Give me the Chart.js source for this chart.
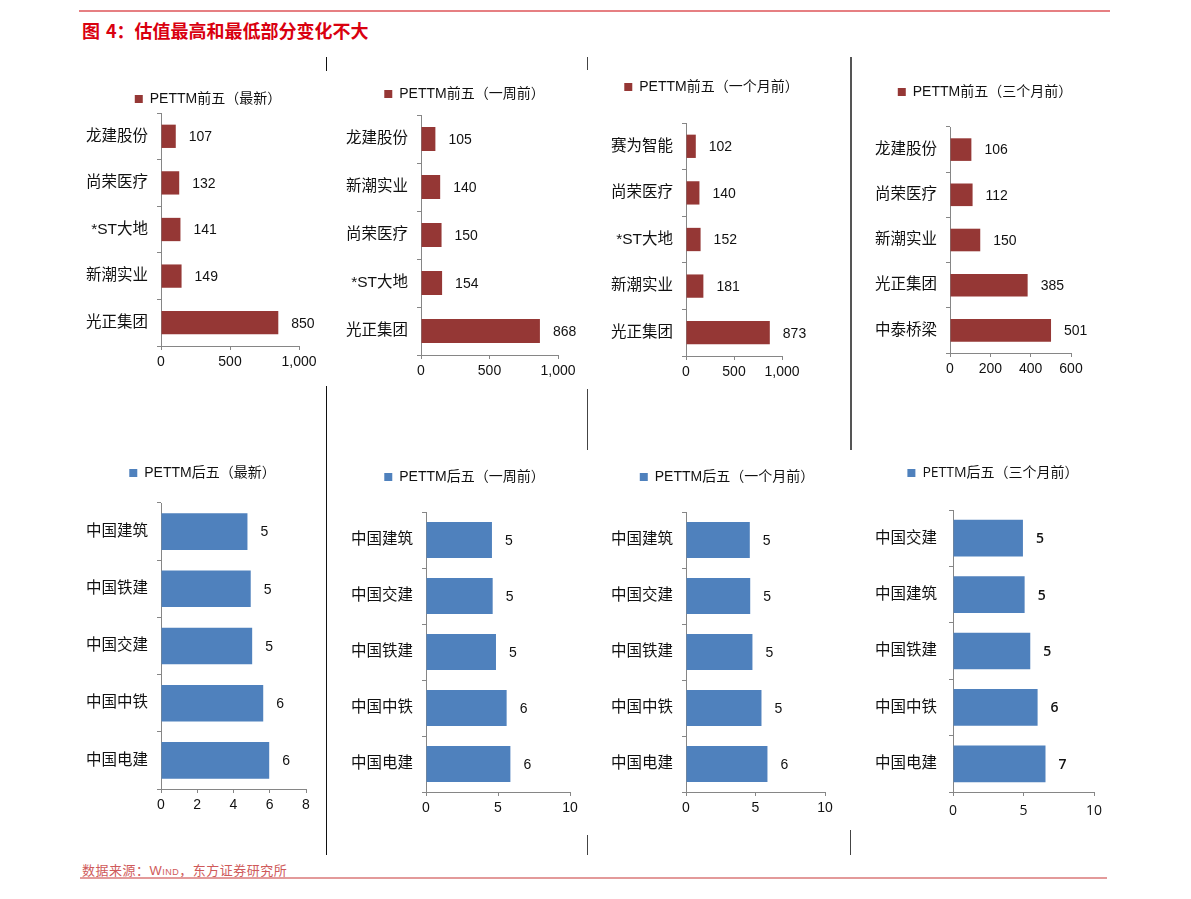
<!DOCTYPE html>
<html>
<head>
<meta charset="utf-8">
<script src="https://cdn.jsdelivr.net/npm/chart.js@4/dist/chart.umd.min.js"></script>
<style>
  html,body{margin:0;padding:0;background:#fff;}
  body{width:1191px;height:899px;position:relative;overflow:hidden;font-family:'Noto Sans CJK SC',sans-serif;}
  canvas{position:absolute;}
  .hl{position:absolute;height:2px;}
  .vl{position:absolute;width:1px;background:#333;}
  #title{position:absolute;left:82px;top:18px;font-size:18px;font-weight:bold;color:#d9000f;line-height:24px;white-space:nowrap;font-family:'Noto Sans CJK SC',sans-serif;}
  #title .sp{display:inline-block;width:6px;}
  #source{position:absolute;left:82px;top:862px;font-size:13px;color:#cf5a5a;line-height:16px;white-space:nowrap;letter-spacing:0.5px;}
  #source .sc{font-variant:small-caps;font-family:'Liberation Sans',sans-serif;}
</style>
</head>
<body>
<div class="hl" style="left:79px;top:10px;width:1031px;background:#e67f82;"></div>
<div id="title">图<span class="sp"></span>4：估值最高和最低部分变化不大</div>

<div class="vl" style="left:326px;top:57px;height:14px;background:#111;"></div>
<div class="vl" style="left:587px;top:57px;height:13px;background:#444;"></div>
<div class="vl" style="left:850px;top:57px;height:393px;width:2px;background:#555;"></div>
<div class="vl" style="left:326px;top:386px;height:469px;background:#111;"></div>
<div class="vl" style="left:587px;top:389px;height:61px;background:#444;"></div>
<div class="vl" style="left:587px;top:835px;height:20px;background:#444;"></div>
<div class="vl" style="left:850px;top:830px;height:25px;background:#444;"></div>

<canvas id="c1"></canvas><canvas id="c2"></canvas><canvas id="c3"></canvas><canvas id="c4"></canvas>
<canvas id="c5"></canvas><canvas id="c6"></canvas><canvas id="c7"></canvas><canvas id="c8"></canvas>

<div id="source">数据来源：<span class="sc">Wind</span>，东方证券研究所</div>
<div class="hl" style="left:80px;top:877px;width:1027px;background:#e39a9a;"></div>

<script>
// ---------------- DATA ----------------
const topLatestName = 'PETTM前五（最新）';
const topLatestCats = ['龙建股份', '尚荣医疗', '*ST大地', '新潮实业', '光正集团'];
const topLatestVals = [107, 132, 141, 149, 850];

const topWeekName = 'PETTM前五（一周前）';
const topWeekCats = ['龙建股份', '新潮实业', '尚荣医疗', '*ST大地', '光正集团'];
const topWeekVals = [105, 140, 150, 154, 868];

const topMonthName = 'PETTM前五（一个月前）';
const topMonthCats = ['赛为智能', '尚荣医疗', '*ST大地', '新潮实业', '光正集团'];
const topMonthVals = [102, 140, 152, 181, 873];

const topQuarterName = 'PETTM前五（三个月前）';
const topQuarterCats = ['龙建股份', '尚荣医疗', '新潮实业', '光正集团', '中泰桥梁'];
const topQuarterVals = [106, 112, 150, 385, 501];

const botLatestName = 'PETTM后五（最新）';
const botLatestCats = ['中国建筑', '中国铁建', '中国交建', '中国中铁', '中国电建'];
const botLatestVals = [4.77, 4.95, 5.03, 5.64, 5.97];

const botWeekName = 'PETTM后五（一周前）';
const botWeekCats = ['中国建筑', '中国交建', '中国铁建', '中国中铁', '中国电建'];
const botWeekVals = [4.58, 4.63, 4.86, 5.60, 5.86];

const botMonthName = 'PETTM后五（一个月前）';
const botMonthCats = ['中国建筑', '中国交建', '中国铁建', '中国中铁', '中国电建'];
const botMonthVals = [4.59, 4.62, 4.78, 5.43, 5.86];

const botQuarterName = 'PETTM后五（三个月前）';
const botQuarterCats = ['中国交建', '中国建筑', '中国铁建', '中国中铁', '中国电建'];
const botQuarterVals = [4.96, 5.08, 5.48, 6.00, 6.56];

// x-axis ranges [max, step]
const topAxis = [1000, 500];
const topQuarterAxis = [600, 200];
const botLatestAxis = [8, 2];
const botAxis = [10, 5];

// ---------------- STYLE ----------------
const RED = '#953735';
const BLUE = '#4f81bd';
const AXIS = '#868686';
const FONT = "'Liberation Sans','Noto Sans CJK SC',sans-serif";
const FONT8 = "'Open Sans','Noto Sans CJK SC',sans-serif";

const valueLabels = {
  id: 'valueLabels',
  afterDatasetsDraw(chart, args, opts) {
    const ctx = chart.ctx;
    const meta = chart.getDatasetMeta(0);
    const vals = chart.data.datasets[0].data;
    ctx.save();
    ctx.font = opts.font;
    ctx.fillStyle = opts.color;
    ctx.textAlign = 'left';
    ctx.textBaseline = 'middle';
    meta.data.forEach((bar, i) => {
      ctx.fillText(String(Math.round(vals[i])), bar.x + opts.offset, bar.y + 1);
    });
    ctx.restore();
  }
};

const legendGap = {
  id: 'legendGap',
  beforeUpdate(chart, args, opts) {
    const lg = chart.legend;
    if (lg && !lg._gapPatched) {
      const fit = lg.fit;
      lg.fit = function () { fit.call(this); this.height += opts.extra; };
      lg._gapPatched = true;
    }
  }
};

function makeChart(id, g, name, cats, vals, color, axis, barPct, fam, opt8) {
  const cv = document.getElementById(id);
  cv.width = g.w; cv.height = g.h;
  cv.style.left = g.l + 'px'; cv.style.top = g.t + 'px';
  new Chart(cv, {
    type: 'bar',
    data: {
      labels: cats,
      datasets: [{
        label: name,
        data: vals,
        backgroundColor: color,
        borderWidth: 0,
        barPercentage: barPct,
        categoryPercentage: 1
      }]
    },
    options: {
      indexAxis: 'y',
      responsive: false,
      animation: false,
      devicePixelRatio: 1,
      layout: { padding: 0 },
      plugins: {
        legend: {
          display: true,
          position: 'top',
          align: 'center',
          labels: {
            boxWidth: 8, boxHeight: 8, padding: 6,
            color: '#111',
            font: { family: fam, size: 14 }
          }
        },
        tooltip: { enabled: false },
        legendGap: { extra: g.extra },
        valueLabels: {
          offset: 13,
          color: '#111',
          font: (opt8 ? '600 14px ' : '14px ') + fam
        }
      },
      scales: {
        y: {
          type: 'category',
          afterFit: s => { s.width = g.yw; },
          grid: { drawOnChartArea: false, drawTicks: true, tickLength: 4, color: AXIS, offset: true },
          border: { display: true, color: AXIS, width: 1 },
          ticks: { padding: opt8 ? 12 : 9, color: '#111', autoSkip: false,
                   font: { family: fam, size: 15.5 } }
        },
        x: {
          type: 'linear',
          min: 0, max: axis[0],
          afterFit: s => { s.height = 30; s.paddingRight = g.pr; s.paddingLeft = 0; },
          grid: { drawOnChartArea: false, drawTicks: true, tickLength: 4, color: AXIS },
          border: { display: true, color: AXIS, width: 1 },
          ticks: { stepSize: axis[1], padding: opt8 ? 7 : 4, color: '#111',
                   font: { family: fam, size: 14 },
                   callback: v => Number(v).toLocaleString('en-US') }
        }
      }
    },
    plugins: [valueLabels, legendGap]
  });
}

// geometry: left, top, width, height, y-axis width, right padding, extra legend gap
makeChart('c1', {l:72,  t:86,  w:272, h:290, yw:89, pr:45, extra:-3}, topLatestName,  topLatestCats,  topLatestVals,  RED, topAxis, 0.5, FONT, false);
makeChart('c2', {l:335, t:81,  w:259, h:304, yw:86, pr:36, extra:4},  topWeekName,    topWeekCats,    topWeekVals,    RED, topAxis, 0.5, FONT, false);
makeChart('c3', {l:600, t:74,  w:223, h:312, yw:86, pr:41, extra:19}, topMonthName,   topMonthCats,   topMonthVals,   RED, topAxis, 0.5, FONT, false);
makeChart('c4', {l:865, t:79,  w:240, h:304, yw:85, pr:34, extra:18}, topQuarterName, topQuarterCats, topQuarterVals, RED, topQuarterAxis, 0.5, FONT, false);
makeChart('c5', {l:75,  t:460, w:255, h:359, yw:86, pr:24, extra:13}, botLatestName,  botLatestCats,  botLatestVals,  BLUE, botLatestAxis, 0.64, FONT, false);
makeChart('c6', {l:340, t:464, w:249, h:358, yw:86, pr:19, extra:18}, botWeekName,    botWeekCats,    botWeekVals,    BLUE, botAxis, 0.64, FONT, false);
makeChart('c7', {l:600, t:464, w:254, h:358, yw:86, pr:29, extra:18}, botMonthName,   botMonthCats,   botMonthVals,   BLUE, botAxis, 0.64, FONT, false);
makeChart('c8', {l:865, t:460, w:256, h:362, yw:88, pr:27, extra:20}, botQuarterName, botQuarterCats, botQuarterVals, BLUE, botAxis, 0.65, FONT8, true);
</script>
</body>
</html>
